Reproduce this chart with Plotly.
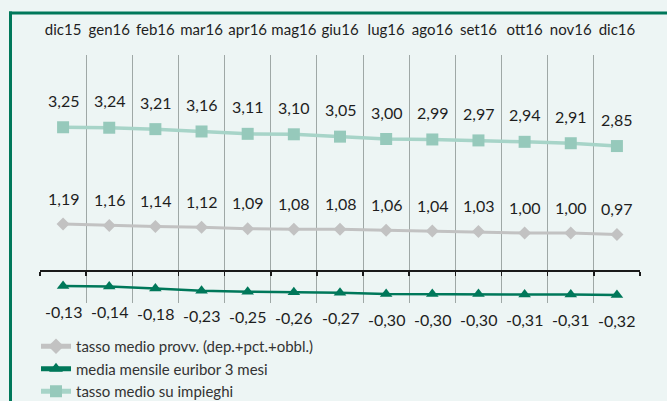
import plotly.graph_objects as go

categories = ["dic15", "gen16", "feb16", "mar16", "apr16", "mag16", "giu16",
              "lug16", "ago16", "set16", "ott16", "nov16", "dic16"]
provv = [1.19, 1.16, 1.14, 1.12, 1.09, 1.08, 1.08, 1.06, 1.04, 1.03, 1.00, 1.00, 0.97]
euribor = [-0.13, -0.14, -0.18, -0.23, -0.25, -0.26, -0.27, -0.30, -0.30, -0.30, -0.31, -0.31, -0.32]
impieghi = [3.25, 3.24, 3.21, 3.16, 3.11, 3.10, 3.05, 3.00, 2.99, 2.97, 2.94, 2.91, 2.85]

names = ["tasso medio provv. (dep.+pct.+obbl.)",
         "media mensile euribor 3 mesi",
         "tasso medio su impieghi"]

FONT = "Lato"
TXT = "#1e1e1e"
BG = "#edf5f4"
GREEN = "#00785a"
LIGHT = "#96c9bb"
GRAY = "#c2c2c2"

W, H = 667, 401
ML, MR, MT, MB = 40, 27, 55, 98
PW, PH = W - ML - MR, H - MT - MB

fig = go.Figure()
fig.add_trace(go.Scatter(x=categories, y=provv, name=names[0], mode="lines+markers",
                         line=dict(color=GRAY, width=3),
                         marker=dict(symbol="diamond", size=10, color=GRAY),
                         legendgroup="a", hoverinfo="skip"))
fig.add_trace(go.Scatter(x=categories, y=euribor, name=names[1], mode="lines+markers",
                         line=dict(color=GREEN, width=2.5),
                         marker=dict(symbol="triangle-up", size=11, color=GREEN),
                         legendgroup="b", hoverinfo="skip"))
fig.add_trace(go.Scatter(x=categories, y=impieghi, name=names[2], mode="lines+markers",
                         line=dict(color="#a7d4c8", width=3.5),
                         marker=dict(symbol="square", size=12, color=LIGHT),
                         legendgroup="c", hoverinfo="skip"))
# empty helper traces so that the axis-line axis and the grid axis are drawn
for ax in ("x2", "x3"):
    fig.add_trace(go.Scatter(x=[], y=[], xaxis=ax, yaxis="y", showlegend=False,
                             hoverinfo="skip", mode="lines"))

def fmt(v):
    return f"{v:.2f}".replace(".", ",")

ann = []
for series, shift in ((impieghi, 27), (provv, 26), (euribor, -25)):
    for c, v in zip(categories, series):
        ann.append(dict(x=c, y=v, text=fmt(v), showarrow=False, yshift=shift,
                        font=dict(family=FONT, size=16, color=TXT)))

# frame
shapes = [
    dict(type="line", xref="paper", yref="paper",
         x0=(10.5 - ML) / PW, x1=(10.5 - ML) / PW,
         y0=(H - MB - 11.5) / PH, y1=(H - MB - 410) / PH,
         line=dict(color=GREEN, width=3)),
    dict(type="line", xref="paper", yref="paper",
         x0=(9 - ML) / PW, x1=(680 - ML) / PW,
         y0=(H - MB - 13) / PH, y1=(H - MB - 13) / PH,
         line=dict(color=GREEN, width=3)),
]

n = len(categories)
fig.update_layout(
    width=W, height=H, autosize=False,
    margin=dict(l=ML, r=MR, t=MT, b=MB, autoexpand=False),
    paper_bgcolor=BG, plot_bgcolor=BG,
    font=dict(family=FONT, color=TXT),
    showlegend=True,
    legend=dict(x=(36 - ML) / PW, xanchor="left", y=(H - MB - 330) / PH, yanchor="top",
                traceorder="grouped", tracegroupgap=0,
                font=dict(family=FONT, size=15, color="#333333"),
                bgcolor="rgba(0,0,0,0)", itemsizing="constant"),
    xaxis=dict(type="category", categoryorder="array", categoryarray=categories,
               range=[-0.5, n - 0.5], side="top", showgrid=False, zeroline=False,
               showline=False, ticks="", ticklabelstandoff=16,
               tickfont=dict(family=FONT, size=15, color=TXT), fixedrange=True),
    xaxis2=dict(overlaying="x", anchor="free", position=(H - MB - 270) / PH,
                range=[-0.5, n - 0.5], showgrid=False, zeroline=False,
                showline=True, linecolor="#1a1a1a", linewidth=1.5,
                ticks="outside", ticklen=4, tickwidth=1.5, tickcolor="#1a1a1a",
                tickvals=[i - 0.5 for i in range(n + 1)], showticklabels=False,
                fixedrange=True),
    xaxis3=dict(overlaying="x", anchor="y", range=[-0.5, n - 0.5],
                showgrid=True, gridcolor="#9fa8a6", gridwidth=1, zeroline=False,
                showline=False, ticks="", showticklabels=False,
                tickvals=[i + 0.5 for i in range(n - 1)], fixedrange=True),
    yaxis=dict(range=[(280 - (H - MB)) / 47, (280 - MT) / 47], visible=False,
               showgrid=False, zeroline=False, fixedrange=True),
    annotations=ann,
    shapes=shapes,
)

fig.write_html("out.html", config={"displayModeBar": False, "staticPlot": True},
               post_script="document.body.style.margin='0';document.body.style.background='#edf5f4';")
